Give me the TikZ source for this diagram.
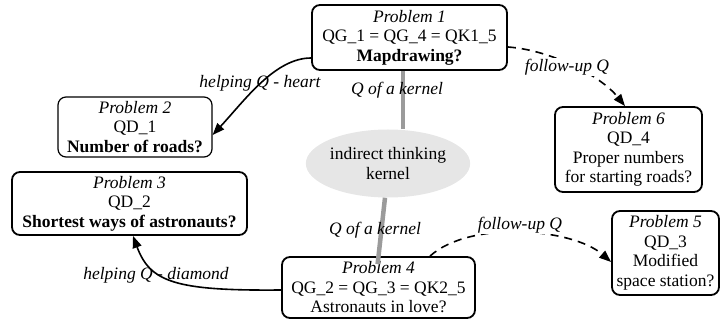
\documentclass[tikz,border=0pt]{standalone}
\usepackage{fontspec}
\setmainfont{Liberation Serif}
\usetikzlibrary{arrows.meta,shapes.geometric,calc}
\definecolor{kgray}{HTML}{9B9B9B}
\definecolor{efill}{HTML}{E6E6E6}
\begin{document}
\begin{tikzpicture}[x=1pt,y=-1pt,
  every node/.style={font=\fontsize{17.5}{19.5}\selectfont},
  prob/.style={draw=black, line width=1.8pt, rounded corners=8pt, fill=white, align=center, inner sep=0pt},
  kern/.style={draw=kgray, line width=4.5pt},
  conn/.style={line width=1.6pt, -{Triangle[length=12pt,width=9pt]}},
  dconn/.style={conn, dash pattern=on 8pt off 6pt},
  lab/.style={font=\fontsize{17.5}{19.5}\selectfont\itshape, inner sep=1pt},
]
\useasboundingbox (0,0) rectangle (721,320);

\node[ellipse, fill=efill, minimum width=156pt, minimum height=68pt, inner sep=0pt, align=center] (ell) at (388,163.5) {indirect thinking\\kernel};

\node[prob, minimum width=195pt, minimum height=65pt] (p1) at (409.5,37.5) {\textit{Problem 1}\\QG\_1 = QG\_4 = QK1\_5\\\textbf{Mapdrawing?}};
\node[prob, line width=1.2pt, minimum width=154pt, minimum height=60pt] (p2) at (135,127) {\textit{Problem 2}\\QD\_1\\\textbf{Number of roads?}};
\node[prob, minimum width=235pt, minimum height=63pt] (p3) at (129.5,203.5) {\textit{Problem 3}\\QD\_2\\\textbf{Shortest ways of astronauts?}};
\node[prob, minimum width=147pt, minimum height=85pt] (p6) at (628.5,149.5) {\textit{Problem 6}\\QD\_4\\Proper numbers\\for starting roads?};
\node[prob, minimum width=107pt, minimum height=84pt] (p5) at (665.5,253) {\textit{Problem 5}\\QD\_3\\Modified\\space station?};
\node[prob, minimum width=193pt, minimum height=61pt] (p4) at (378.5,287.5) {\textit{Problem 4}\\QG\_2 = QG\_3 = QK2\_5\\Astronauts in love?};

% kernel lines
\draw[kern] ([xshift=-6.5pt]p1.south) -- ([xshift=15pt]ell.north);
\draw[kern, shorten >=-8pt] ([xshift=-3pt]ell.south) -- (p4.north);

% labels
\node[lab] (lk1) at (397,90) {Q of a kernel};
\node[lab] (lk2) at (375,230) {Q of a kernel};
\node[lab] (lh1) at (260,83) {helping Q - heart};
\node[lab] (lh2) at (156,275) {helping Q - diamond};

% connectors
\draw[conn] ([yshift=-20.5pt]p1.west) .. controls (275,58) and (245,100) .. ([yshift=-8pt]p2.east);
\draw[conn] ([yshift=-2.5pt]p4.west) .. controls (175,291) and (150,282) .. ([xshift=3.5pt]p3.south);
\draw[dconn] ([yshift=-9.5pt]p1.east) .. controls (550,50) and (600,75) .. ([xshift=-3.5pt]p6.north);
\draw[dconn] ([xshift=51.5pt]p4.north) .. controls (470,220) and (572,228) .. ([yshift=-9pt]p5.west);

\node[lab, fill=white] (lf1) at (567,67) {follow-up Q};
\node[lab, fill=white] (lf2) at (520,225) {follow-up Q};
\end{tikzpicture}
\end{document}
